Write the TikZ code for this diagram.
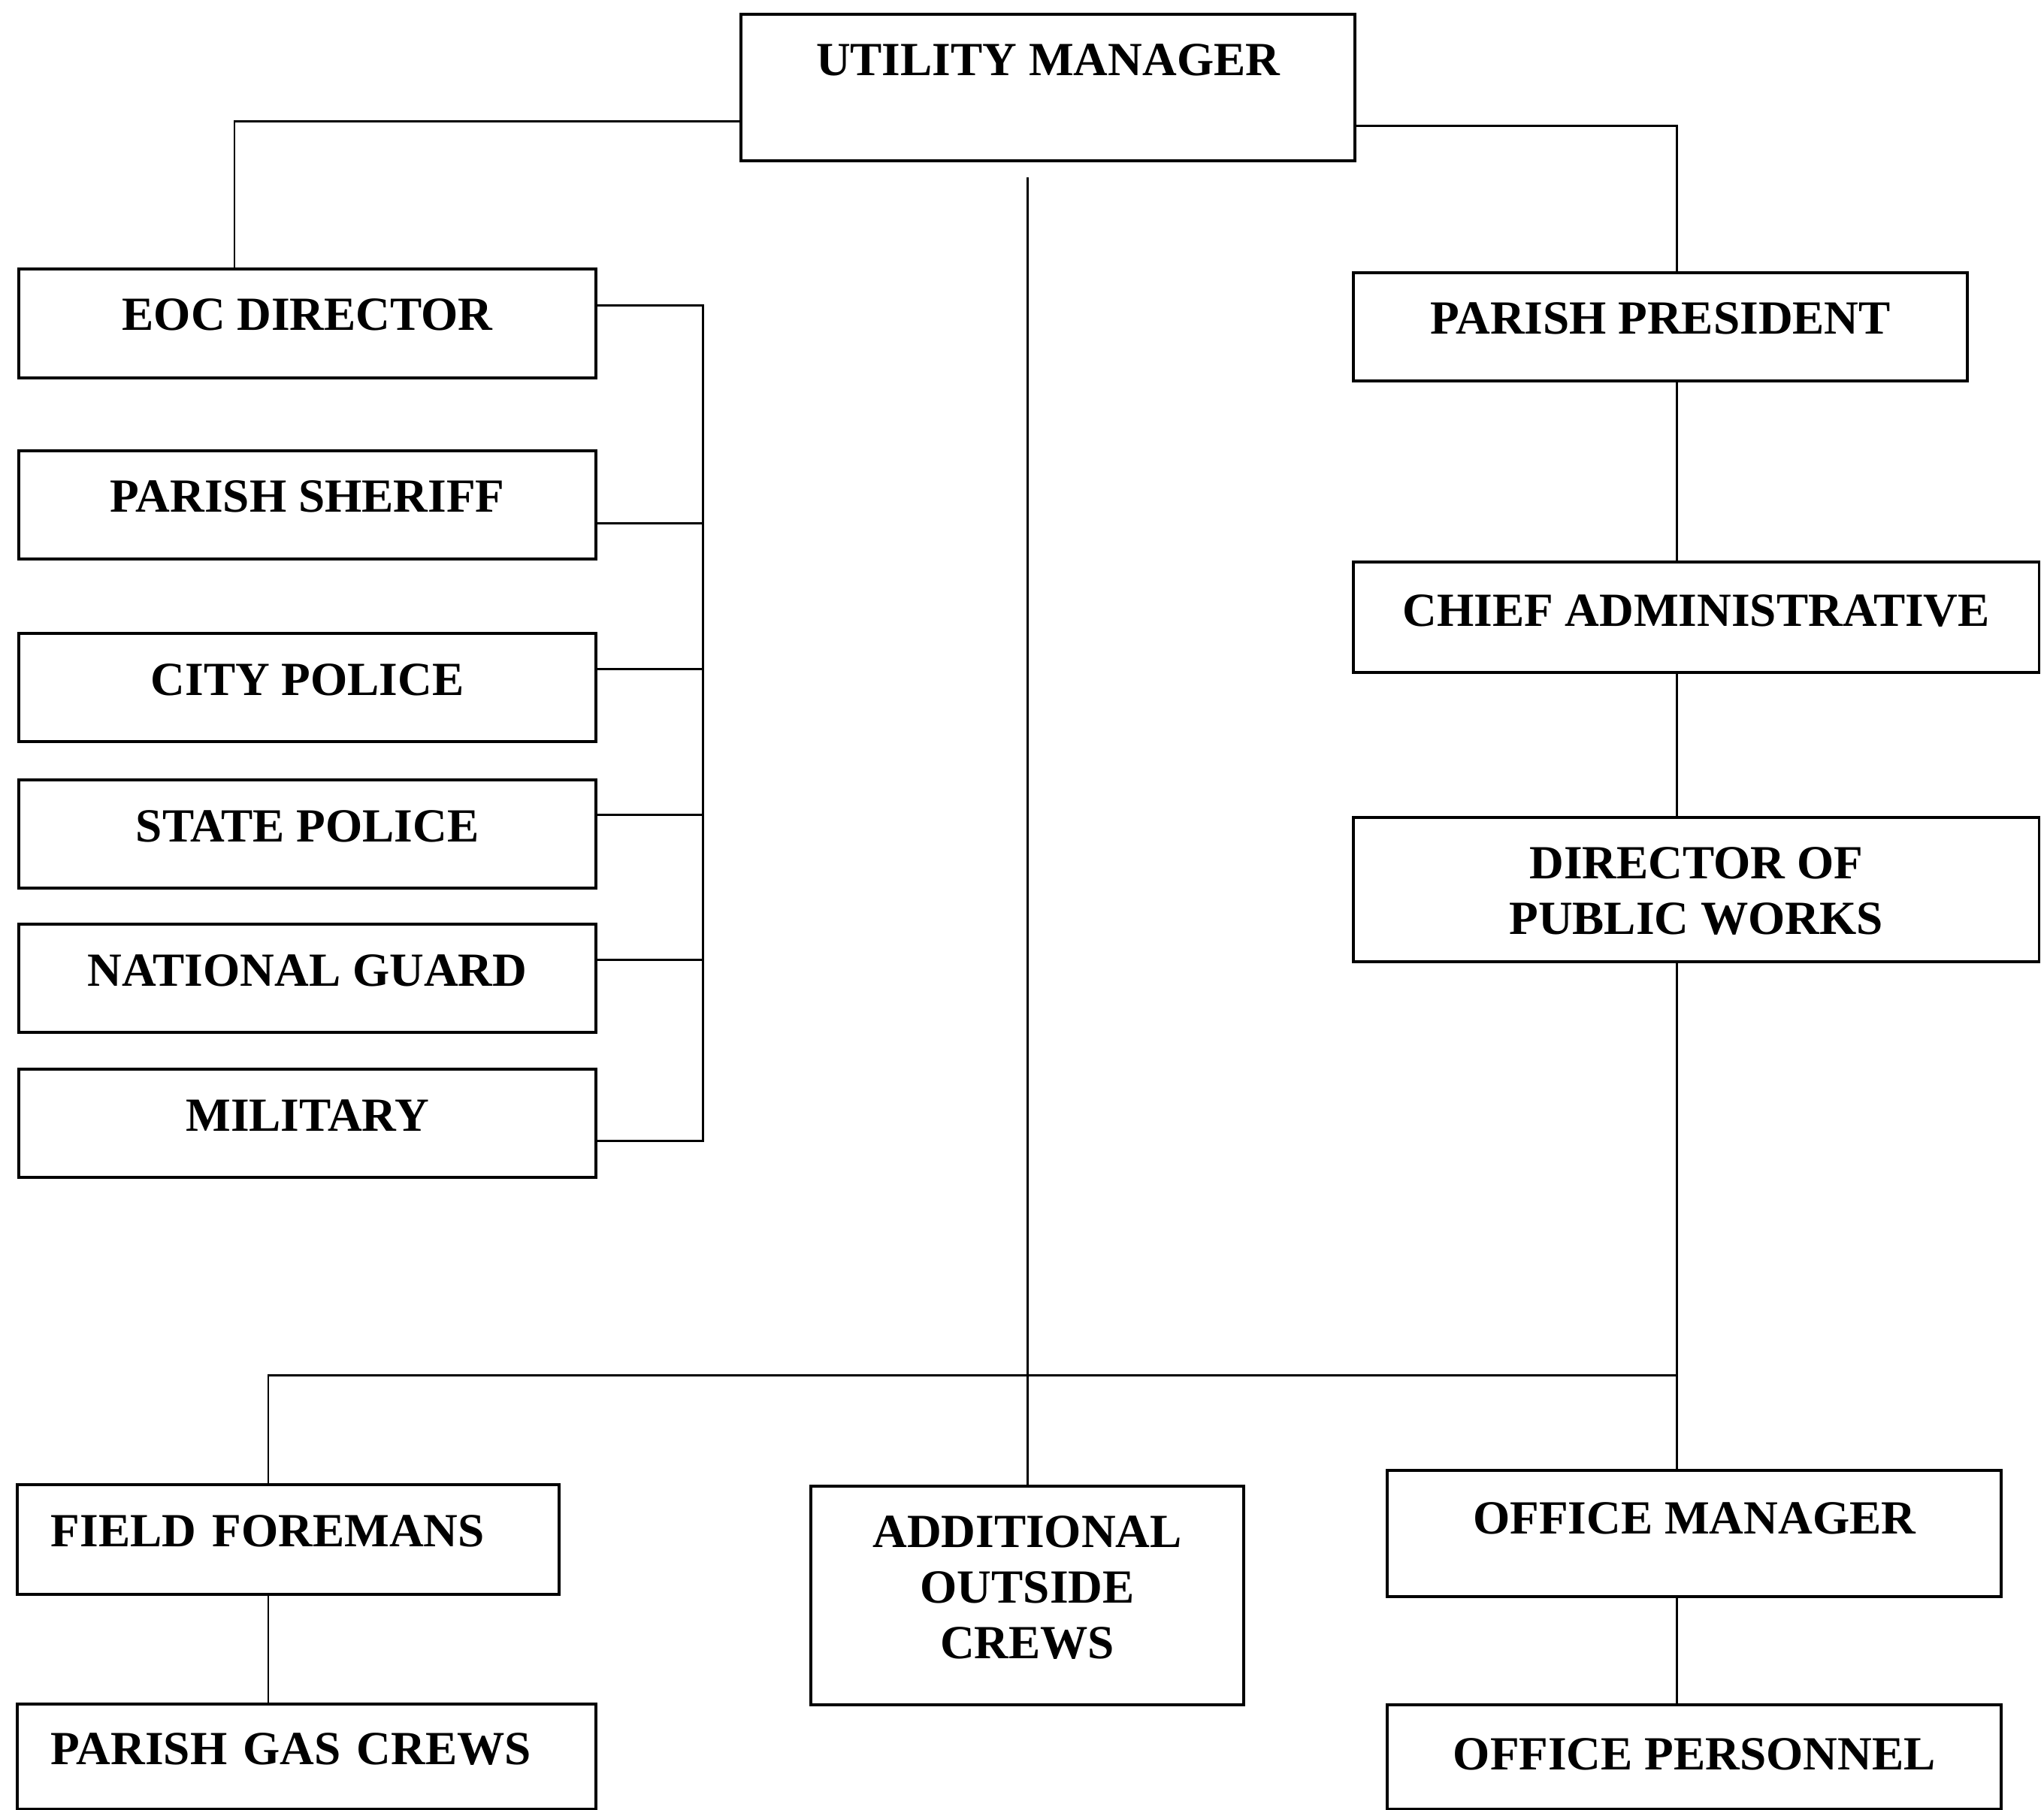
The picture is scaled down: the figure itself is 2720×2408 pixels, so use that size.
\documentclass[tikz,border=0pt]{standalone}
\usepackage{fontspec}
\setmainfont{Liberation Serif}
\tikzset{
  box/.style={draw, line width=1.1pt, inner sep=0pt, anchor=north west,
    text height=0.82cm, align=center,
    font=\bfseries\fontsize{18}{21}\selectfont},
  conn/.style={line width=0.85pt}
}
\begin{document}
\begin{tikzpicture}[x=0.01cm,y=-0.01cm]
\useasboundingbox (0,0) rectangle (2720,2408);
% top
\node[box, minimum width=8.17cm, text depth=1.13cm] (um) at (984,17) {UTILITY MANAGER};
% left column
\node[box, minimum width=7.68cm, text depth=0.63cm] (eoc) at (23,356) {EOC DIRECTOR};
\node[box, minimum width=7.68cm, text depth=0.62cm, text height=0.82cm] (sher) at (23,598) {PARISH SHERIFF};
\node[box, minimum width=7.68cm, text depth=0.62cm] (city) at (23,841) {CITY POLICE};
\node[box, minimum width=7.68cm, text depth=0.62cm] (state) at (23,1036) {STATE POLICE};
\node[box, minimum width=7.68cm, text depth=0.62cm] (ng) at (23,1228) {NATIONAL GUARD};
\node[box, minimum width=7.68cm, text depth=0.62cm] (mil) at (23,1421) {MILITARY};
% right column
\node[box, minimum width=8.17cm, text depth=0.62cm, text height=0.82cm] (pp) at (1799,361) {PARISH PRESIDENT};
\node[box, minimum width=9.12cm, text depth=0.62cm, text height=0.85cm] (ca) at (1799,746) {CHIEF ADMINISTRATIVE};
\node[box, minimum width=9.12cm, text depth=0.37cm, text height=1.55cm] (dpw) at (1799,1086) {DIRECTOR OF\\PUBLIC WORKS};
% bottom row
\node[box, align=left, text width=6.31cm, inner xsep=0.45cm, text depth=0.64cm, text height=0.82cm] (ff) at (21,1974) {FIELD FOREMANS};
\node[box, align=left, text width=6.80cm, inner xsep=0.45cm, text depth=0.60cm, text height=0.80cm] (pgc) at (21,2266) {PARISH GAS CREWS};
\node[box, minimum width=5.76cm, text depth=0.62cm, text height=2.29cm] (aoc) at (1077,1976) {ADDITIONAL\\OUTSIDE\\CREWS};
\node[box, minimum width=8.17cm, text depth=0.84cm, text height=0.84cm] (om) at (1844,1955) {OFFICE MANAGER};
\node[box, minimum width=8.17cm, text depth=0.53cm, text height=0.86cm] (op) at (1844,2267) {OFFICE PERSONNEL};
% connectors from utility manager
\draw[conn] (um.west |- 0,161) -| (eoc.north -| 312,0);
\draw[conn] (um.east |- 0,167) -| (pp.north -| 2231,0);
\coordinate (ctop) at (1367,236);
\draw[conn] (ctop) -- (aoc.north -| ctop);
% left bracket
\coordinate (brk) at (935,0);
\draw[conn] (eoc.east |- 0,406) -| (brk |- 0,1518) -- (mil.east |- 0,1518);
\draw[conn] (sher.east |- 0,696) -- (brk |- 0,696);
\draw[conn] (city.east |- 0,890) -- (brk |- 0,890);
\draw[conn] (state.east |- 0,1084) -- (brk |- 0,1084);
\draw[conn] (ng.east |- 0,1277) -- (brk |- 0,1277);
% right trunk
\coordinate (tr) at (2231,0);
\draw[conn] (pp.south -| tr) -- (ca.north -| tr);
\draw[conn] (ca.south -| tr) -- (dpw.north -| tr);
\draw[conn] (dpw.south -| tr) -- (om.north -| tr);
\coordinate (junc) at (2231,1830);
\draw[conn] (ff.north -| 357,0) |- (junc);
\draw[conn] (ff.south -| 357,0) -- (pgc.north -| 357,0);
\draw[conn] (om.south -| tr) -- (op.north -| tr);
\end{tikzpicture}
\end{document}
